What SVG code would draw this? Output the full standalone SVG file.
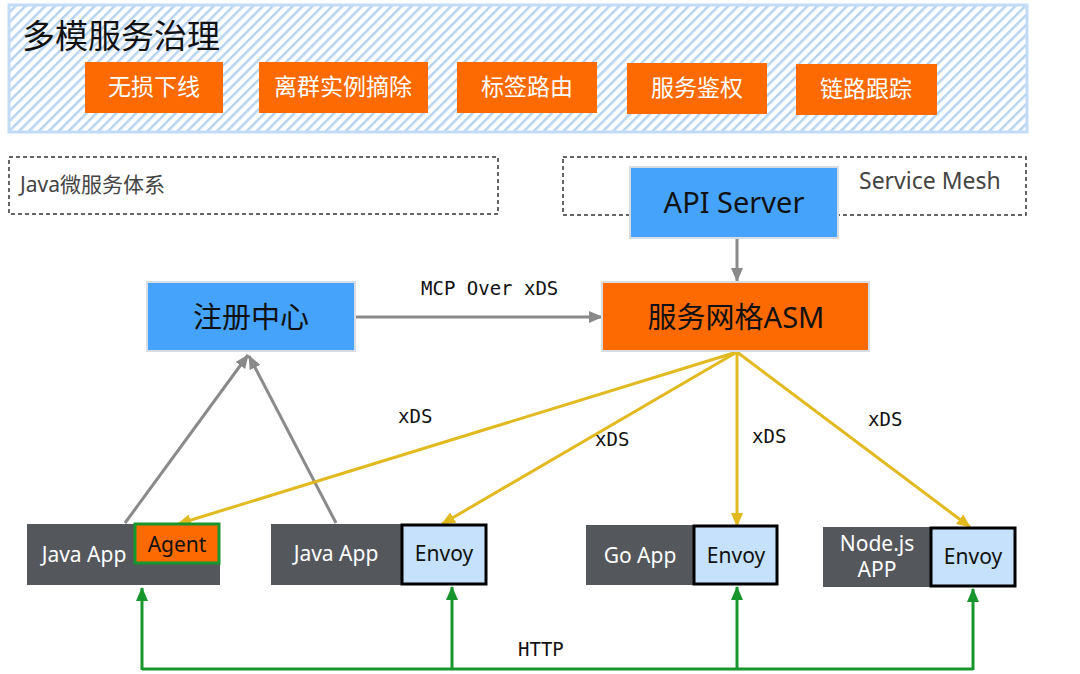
<svg xmlns="http://www.w3.org/2000/svg" width="1080" height="674" viewBox="0 0 1080 674">
<defs>
<pattern id="hatch" patternUnits="userSpaceOnUse" width="7" height="7" patternTransform="rotate(45)">
<rect width="7" height="7" fill="#ffffff"/>
<rect x="0" y="0" width="2.5" height="7" fill="#b6d3f2"/>
</pattern>
<marker id="ag" markerUnits="userSpaceOnUse" markerWidth="14" markerHeight="12" refX="13" refY="6" orient="auto"><path d="M0,0 L14,6 L0,12 Z" fill="#8a8a8a"/></marker>
<marker id="ay" markerUnits="userSpaceOnUse" markerWidth="14" markerHeight="12" refX="13" refY="6" orient="auto"><path d="M0,0 L14,6 L0,12 Z" fill="#e2b91f"/></marker>
<marker id="agr" markerUnits="userSpaceOnUse" markerWidth="14" markerHeight="12" refX="13" refY="6" orient="auto"><path d="M0,0 L14,6 L0,12 Z" fill="#16962d"/></marker>
</defs>
<style>
.cn{font-family:"Noto Sans","Noto Sans CJK SC",sans-serif}
.mono{font-family:"DejaVu Sans Mono","Noto Sans CJK SC",monospace;font-size:19px;fill:#111}
.tag{fill:#fd6a02}
.tagt{font-size:23px;fill:#ffffff;text-anchor:middle}
.dash{fill:none;stroke:#333;stroke-width:1.5;stroke-dasharray:4 3}
.blue{fill:#46a3fb;stroke:#d8dde3;stroke-width:2}
.orange{fill:#fd6a02;stroke:#d8dde3;stroke-width:2}
.big{font-size:29px;fill:#111;text-anchor:middle}
.app{fill:#54575c}
.appt{font-size:21px;fill:#ffffff;text-anchor:middle}
.envoy{fill:#c5e1fb;stroke:#000;stroke-width:3}
.envt{font-size:21px;fill:#111;text-anchor:middle}
.g{stroke:#8a8a8a;stroke-width:3;fill:none;marker-end:url(#ag)}
.y{stroke:#e2b91f;stroke-width:3;fill:none;marker-end:url(#ay)}
.gr{stroke:#16962d;stroke-width:3;fill:none}
.gra{stroke:#16962d;stroke-width:3;fill:none;marker-end:url(#agr)}
</style>

<g id="governance">
<rect x="9" y="5" width="1018" height="127" fill="url(#hatch)" stroke="#c2dcf5" stroke-width="3"/>
<text class="cn" x="22" y="48" font-size="33" fill="#111">多模服务治理</text>
</g>
<g id="tag1"><rect class="tag" x="85" y="62" width="138" height="51"/><text class="cn tagt" x="154" y="95">无损下线</text></g>
<g id="tag2"><rect class="tag" x="259" y="62" width="169" height="51"/><text class="cn tagt" x="343" y="95">离群实例摘除</text></g>
<g id="tag3"><rect class="tag" x="457" y="62" width="140" height="51"/><text class="cn tagt" x="527" y="95">标签路由</text></g>
<g id="tag4"><rect class="tag" x="627" y="63" width="140" height="51"/><text class="cn tagt" x="697" y="96">服务鉴权</text></g>
<g id="tag5"><rect class="tag" x="796" y="64" width="141" height="51"/><text class="cn tagt" x="866" y="97">链路跟踪</text></g>

<g id="java-system">
<rect class="dash" x="9" y="157" width="489" height="57"/>
<text class="cn" x="20" y="192" font-size="21" fill="#444">Java微服务体系</text>
</g>
<g id="service-mesh">
<rect class="dash" x="563" y="157" width="463" height="58"/>
<text class="cn" x="859" y="189" font-size="23" fill="#444">Service Mesh</text>
</g>

<g id="connectors">
<line class="g" x1="737" y1="238" x2="737" y2="281"/>
<line class="g" x1="356" y1="317" x2="602" y2="317"/>
<line class="g" x1="125" y1="523" x2="248" y2="355"/>
<line class="g" x1="336" y1="523" x2="249" y2="356"/>
<line class="y" x1="737" y1="352" x2="178" y2="524"/>
<line class="y" x1="737" y1="352" x2="442" y2="524"/>
<line class="y" x1="737" y1="352" x2="737" y2="526"/>
<line class="y" x1="737" y1="352" x2="970" y2="527"/>
<polyline class="gr" points="142,669 973,669"/>
<line class="gra" x1="142" y1="670" x2="142" y2="588"/>
<line class="gra" x1="452" y1="670" x2="452" y2="587"/>
<line class="gra" x1="737" y1="670" x2="737" y2="587"/>
<line class="gra" x1="973" y1="670" x2="973" y2="589"/>
<text class="mono" x="421" y="295">MCP Over xDS</text>
<text class="mono" x="398" y="423">xDS</text>
<text class="mono" x="595" y="446">xDS</text>
<text class="mono" x="752" y="443">xDS</text>
<text class="mono" x="868" y="426">xDS</text>
<text class="mono" x="518" y="656" font-size="18">HTTP</text>
</g>

<g id="api-server"><rect class="blue" x="630" y="167" width="208" height="71"/><text class="cn big" x="734" y="213">API Server</text></g>
<g id="asm"><rect class="orange" x="602" y="282" width="267" height="69"/><text class="cn big" x="736" y="328">服务网格ASM</text></g>
<g id="registry"><rect class="blue" x="147" y="282" width="208" height="69"/><text class="cn big" x="251" y="328">注册中心</text></g>

<g id="java-app-agent">
<rect class="app" x="27" y="524" width="193" height="61"/>
<text class="cn appt" x="84" y="562">Java App</text>
<rect x="135" y="524" width="84" height="39" fill="#fd6a02" stroke="#16962d" stroke-width="3"/>
<text class="cn envt" x="177" y="552">Agent</text>
</g>
<g id="java-app-envoy">
<rect class="app" x="271" y="524" width="216" height="61"/>
<text class="cn appt" x="336" y="561">Java App</text>
<rect class="envoy" x="402" y="525" width="84" height="59"/>
<text class="cn envt" x="444" y="561">Envoy</text>
</g>
<g id="go-app">
<rect class="app" x="586" y="525" width="192" height="60"/>
<text class="cn appt" x="640" y="563">Go App</text>
<rect class="envoy" x="694" y="526" width="83" height="58"/>
<text class="cn envt" x="736" y="563">Envoy</text>
</g>
<g id="node-app">
<rect class="app" x="823" y="527" width="193" height="60"/>
<text class="cn appt" x="877" y="551">Node.js</text>
<text class="cn appt" x="877" y="577">APP</text>
<rect class="envoy" x="931" y="528" width="84" height="58"/>
<text class="cn envt" x="973" y="564">Envoy</text>
</g>
</svg>
